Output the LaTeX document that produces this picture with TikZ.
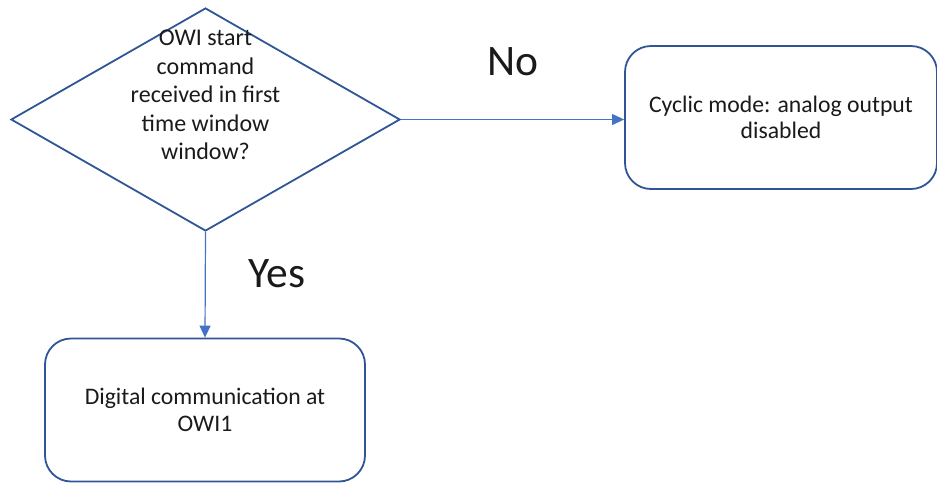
\documentclass[tikz,border=0pt]{standalone}
\usepackage{fontspec}
\setmainfont{Carlito}
\usetikzlibrary{shapes.geometric,arrows.meta}
\definecolor{edgeblue}{HTML}{2F5597}
\definecolor{linkblue}{HTML}{4472C4}
\definecolor{ink}{HTML}{1A1A1A}
\tikzset{
  decision/.style={diamond, draw=edgeblue, line width=1.8pt, inner sep=0pt,
    minimum width=389pt, minimum height=223pt},
  procbox/.style={rectangle, rounded corners=26pt, draw=edgeblue, line width=1.8pt,
    inner sep=0pt, align=center, text=ink,
    font=\fontsize{23.7pt}{26.5pt}\selectfont},
  flow/.style={draw=linkblue, line width=1.2pt,
    -{Triangle[length=12pt,width=11pt]}},
  branch/.style={text=ink, font=\fontsize{43.5pt}{46pt}\selectfont, inner sep=0pt},
}
\begin{document}
\begin{tikzpicture}[x=1pt,y=-1pt]
  \useasboundingbox (0,0) rectangle (937,483);
  % decision
  \node[decision] (dec) at (205.5,119.5) {};
  \node[align=center, text=ink, inner sep=0pt,
        font=\fontsize{24pt}{28.6pt}\selectfont] (dectext) at (205.5,95)
    {OWI start\\command\\received in first\\time window\\window?};
  % outcomes
  \node[procbox, minimum width=312pt, minimum height=143pt] (cyc) at (781,117.5)
    {Cyclic mode: analog output\\disabled};
  \node[procbox, minimum width=320pt, minimum height=143pt] (dig) at (205,410)
    {Digital communication at\\OWI1};
  % connectors
  \draw[flow] (dec.east) -- (dec.east -| cyc.west);
  \draw[flow] (dec.south) -- (dig.north);
  % branch labels
  \node[branch] (no) at (513,62) {No};
  \node[branch] (yes) at (277,274) {Yes};
\end{tikzpicture}
\end{document}
